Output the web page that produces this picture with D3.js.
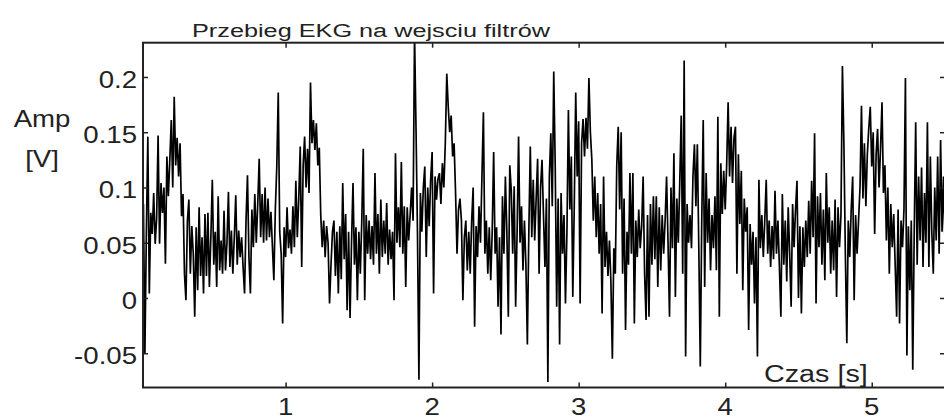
<!DOCTYPE html>
<html>
<head>
<meta charset="utf-8">
<script src="https://cdnjs.cloudflare.com/ajax/libs/d3/7.8.5/d3.min.js"></script>
<style>
    html, body { margin: 0; padding: 0; background: #fff; overflow: hidden; }
    text { font-family: "Liberation Sans", Arial, sans-serif; fill: #222; }
</style>
</head>
<body>
<div id="chart"></div>
<script>
// EKG samples, in mV, 100 Hz, first sample at t0
const t0 = 0.03, dt = 0.01;
const ampMv = [
    85, -50, 60, 146, 4, 77, 58, 95, 49, 72,
    147, 49, 104, 77, 100, 31, 128, 92, 125, 161,
    100, 182, 120, 145, 110, 140, 74, 94, 22, -2,
    70, 89, 22, 65, 40, -17, 64, 7, 82, 20,
    55, 4, 76, 20, 77, 10, 55, 107, 30, 60,
    10, 92, 25, 52, 22, 79, 25, 50, 96, 28,
    61, 22, 55, 93, 30, 61, 37, 55, 28, 4,
    70, 111, 37, 4, 80, 46, 94, 50, 85, 126,
    55, 94, 50, 100, 52, 90, 55, 78, 47, 16,
    80, 119, 186, 60, 40, -23, 64, 37, 82, 45,
    62, 40, 83, 46, 106, 55, 90, 137, 28, 120,
    146, 100, 135, 95, 195, 140, 161, 134, 158, 120,
    136, 75, 46, 70, 37, 65, 50, -5, 30, 60,
    70, 20, 60, 4, 65, 17, 104, 35, 76, -11,
    60, -18, 50, 104, 30, 64, -2, 60, 22, 70,
    135, -2, 75, 40, 70, 35, 65, 30, 113, 40,
    76, 22, 89, 37, 70, 40, 86, 30, 62, 35,
    60, -2, 131, 50, 82, 46, 123, 40, 83, 10,
    82, 52, 75, 100, 70, 240, 155, 60, -74, 95,
    60, 100, 119, 37, 100, 65, 107, 132, 4, 110,
    89, 108, 113, 85, 122, 100, 140, 203, 173, 150,
    165, 128, 140, 95, 40, 80, 90, 70, -2, 55,
    70, 25, 60, 22, 70, 100, -26, 65, 37, 83,
    50, 110, 168, 40, 70, 22, 64, 16, 60, 132,
    40, 64, -8, 55, -33, 92, 40, 110, 60, -17,
    120, 98, 40, 101, -8, 60, 146, 50, 83, 25,
    70, 30, -42, 60, 137, 55, 107, 52, 90, 126,
    22, 100, 125, 75, 28, 90, -76, 110, 149, 83,
    205, 120, -8, 90, -42, 95, 40, 75, -5, 60,
    170, 80, 128, 1, 83, 186, 110, 160, -5, 140,
    162, 128, 163, 135, 199, 150, 125, 70, 110, 55,
    95, 40, 85, -14, 110, 28, 60, 20, 52, 15,
    -55, 45, 22, 120, 155, 80, 150, 22, 90, -29,
    60, 30, 113, 40, 113, -23, 70, 37, 80, 45,
    65, 110, 22, -20, 75, -17, 85, 30, 92, 35,
    92, 10, 82, 25, 75, 40, 70, 110, 50, -17,
    100, 45, 131, 1, 90, 50, 105, 165, 22, 215,
    -53, 85, 50, 75, 45, 110, 139, 83, 139, 45,
    -62, 70, 161, 10, 113, 50, 90, 25, 75, 45,
    92, 25, 164, -17, 122, 76, 115, 80, 120, 177,
    110, 155, 104, 145, 155, 22, 130, 67, 115, 7,
    90, 60, 82, -29, 67, 30, 60, -5, 55, -53,
    107, 45, 75, 37, 70, 107, 40, 70, 28, 65,
    35, 97, 40, 70, 28, -17, 94, 30, 70, 15,
    82, 40, -8, 85, 46, 80, 106, 0, 65, -14,
    64, 28, 70, 37, 88, 40, 106, 55, 149, -5,
    92, 46, 95, 30, 80, 16, 113, 50, 82, 22,
    70, 25, 89, 1, 82, 46, 75, 210, 140, 40,
    -41, 70, 37, 80, 110, -2, 75, 40, 70, 100,
    174, 90, 140, 83, 130, 154, 173, 119, 150, 58,
    130, 153, 100, 135, 177, 95, 120, 52, 100, 22,
    85, 46, 76, 30, -17, 80, -23, 70, 46, 80,
    199, -52, 65, 7, 70, -65, 60, 159, 30, 110,
    52, 118, 28, 95, 50, 159, 28, 128, 60, 22,
    100, 52, 128, 40, 143, 60, 110, 50
];

const xTicks = [1, 2, 3, 4, 5];
const yTicks = [-0.05, 0, 0.05, 0.1, 0.15, 0.2];
const xDomain = [0.027, 5.5];
const yDomain = [-0.081, 0.231];

const title = "Przebieg EKG na wejsciu filtrów";
const xLabel = "Czas [s]";
const yLabel = ["Amp", "[V]"];

const width = 944, height = 419;
const box = {left: 143, right: 945, top: 42.7, bottom: 387.5};

const svg = d3.select("#chart").append("svg")
    .attr("width", width)
    .attr("height", height);

svg.append("rect")
    .attr("width", width)
    .attr("height", height)
    .attr("fill", "#fff");

const x = d3.scaleLinear().domain(xDomain).range([box.left, box.right]);
const y = d3.scaleLinear().domain(yDomain).range([box.bottom, box.top]);

svg.append("clipPath")
    .attr("id", "plot-clip")
    .append("rect")
    .attr("x", box.left)
    .attr("y", box.top)
    .attr("width", box.right - box.left)
    .attr("height", box.bottom - box.top);

// the signal
let line = d3.line()
    .x((d, i) => x(t0 + i * dt))
    .y(d => y(d / 1000));

svg.append("path")
    .datum(ampMv)
    .attr("clip-path", "url(#plot-clip)")
    .attr("fill", "none")
    .attr("stroke", "#000")
    .attr("stroke-width", 1.7)
    .attr("stroke-linejoin", "bevel")
    .attr("d", line);

// box and inward ticks on all four sides, matlab style
svg.append("rect")
    .attr("x", box.left)
    .attr("y", box.top)
    .attr("width", box.right - box.left)
    .attr("height", box.bottom - box.top)
    .attr("fill", "none")
    .attr("stroke", "#222")
    .attr("stroke-width", 2);

function ticks(axis, tx, ty) {
    svg.append("g")
        .attr("transform", "translate(" + tx + "," + ty + ")")
        .call(axis.tickSize(-5).tickSizeOuter(0).tickFormat(""))
        .call(g => g.select(".domain").remove())
        .call(g => g.selectAll(".tick line").attr("stroke", "#222").attr("stroke-width", 1.5));
}
ticks(d3.axisBottom(x).tickValues(xTicks), 0, box.bottom);
ticks(d3.axisTop(x).tickValues(xTicks), 0, box.top);
ticks(d3.axisLeft(y).tickValues(yTicks), box.left, 0);
ticks(d3.axisRight(y).tickValues(yTicks), box.right, 0);

// the picture is stretched sideways, so is the text
function label(txt, px, py, anchor, size, sx) {
    svg.append("text")
        .attr("transform", "translate(" + px + "," + py + ") scale(" + sx + ",1)")
        .attr("text-anchor", anchor)
        .attr("font-size", size)
        .text(txt);
}

yTicks.forEach(v => label(String(v), 137, y(v) + 11, "end", 23, 1.2));
xTicks.forEach(v => label(String(v), x(v), 415, "middle", 23, 1.2));

label(title, 192, 37, "start", 19, 1.33);
label(xLabel, 764, 382, "start", 23, 1.25);
label(yLabel[0], 42, 127, "middle", 23, 1.2);
label(yLabel[1], 42, 167, "middle", 23, 1.2);
</script>
</body>
</html>
